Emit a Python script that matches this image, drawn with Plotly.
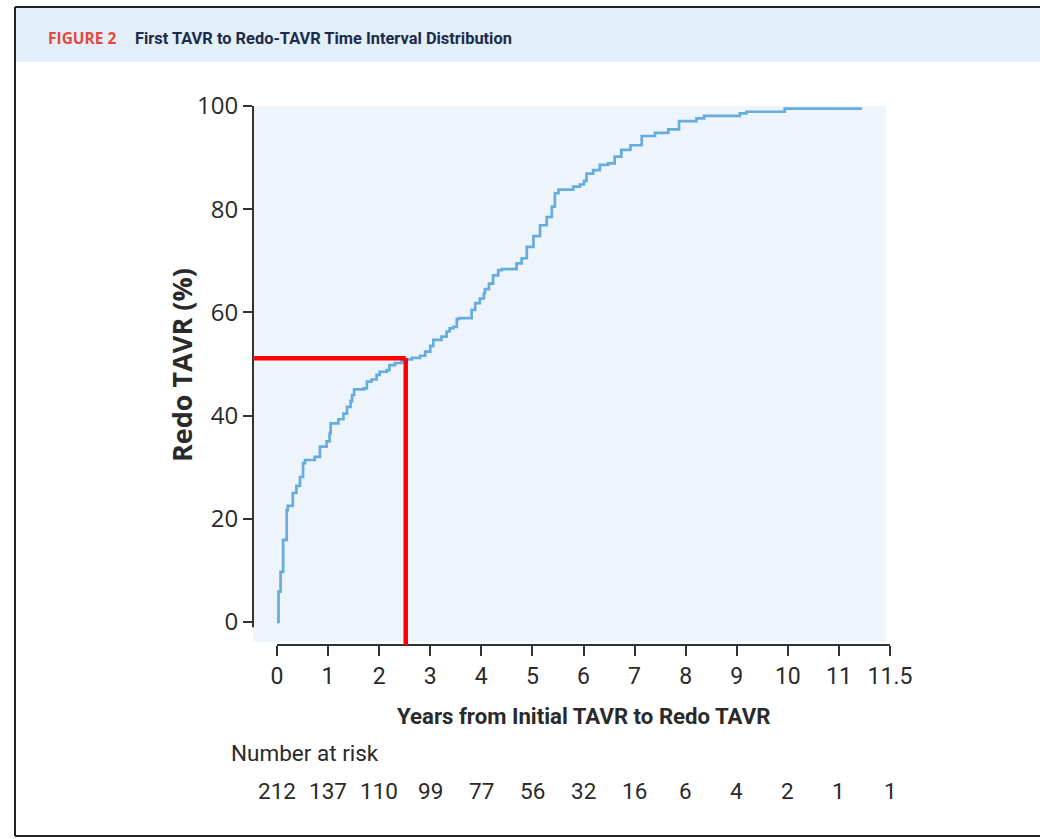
import plotly.graph_objects as go

# Cumulative incidence of redo TAVR (step curve): years from first TAVR, percent
years = [0.00, 0.03, 0.07, 0.12, 0.19, 0.21, 0.31, 0.38, 0.45, 0.51, 0.55, 0.74,
         0.84, 0.97, 1.03, 1.05, 1.20, 1.30, 1.37, 1.44, 1.47, 1.51, 1.70, 1.76,
         1.85, 1.95, 2.01, 2.15, 2.20, 2.31, 2.44, 2.54, 2.64, 2.80, 2.90, 3.00,
         3.06, 3.22, 3.32, 3.38, 3.45, 3.52, 3.56, 3.81, 3.88, 3.97, 4.05, 4.07,
         4.15, 4.23, 4.33, 4.40, 4.69, 4.79, 4.89, 5.02, 5.15, 5.28, 5.38, 5.44,
         5.51, 5.80, 5.93, 6.01, 6.06, 6.19, 6.32, 6.48, 6.61, 6.74, 6.92, 7.14,
         7.40, 7.66, 7.87, 8.21, 8.36, 9.06, 9.19, 9.94, 11.45]
redo_pct = [0.0, 5.9, 9.7, 15.9, 21.7, 22.5, 25.0, 26.4, 28.1, 30.8, 31.4, 32.0,
            34.0, 35.0, 36.6, 38.5, 39.3, 40.4, 41.7, 42.8, 44.0, 45.1, 45.3, 46.6,
            47.0, 47.9, 48.5, 48.8, 49.8, 50.2, 50.6, 50.9, 51.2, 51.6, 52.4, 53.5,
            54.7, 55.3, 56.3, 56.9, 57.2, 58.7, 58.9, 60.5, 61.8, 62.7, 63.7, 64.5,
            65.6, 67.2, 68.2, 68.4, 69.5, 70.5, 72.7, 74.8, 76.9, 78.5, 80.5, 83.1,
            83.8, 84.4, 84.8, 85.5, 86.9, 87.6, 88.6, 88.9, 90.2, 91.5, 92.4, 94.2,
            94.8, 95.5, 97.1, 97.6, 98.1, 98.6, 98.9, 99.5, 99.5]

# Median marker (time, percent)
median_year = 2.52
median_pct = 51.1

# Axis ticks: the last position carries the "11.5" label
x_tick_pos = [0, 1, 2, 3, 4, 5, 6, 7, 8, 9, 10, 11, 12]
x_tick_text = ["0", "1", "2", "3", "4", "5", "6", "7", "8", "9", "10", "11", "11.5"]
y_ticks = [0, 20, 40, 60, 80, 100]

number_at_risk = [212, 137, 110, 99, 77, 56, 32, 16, 6, 4, 2, 1, 1]

W, H = 1040, 839
L, R, T, B = 253, 150, 104, 194
PW, PH = W - L - R, H - T - B

X_RANGE = [-0.47, 12.0]
Y_RANGE = [-4.46, 100.4]

NARROW = "Roboto, sans-serif"
SANS = "Open Sans, Noto Sans, sans-serif"
INK = "#2a2a2a"


def px_x(px):
    return (px - L) / PW


def px_y(py):
    return (H - B - py) / PH


fig = go.Figure()

fig.add_trace(go.Scatter(
    x=years, y=redo_pct, mode="lines",
    line=dict(color="#66ADDE", width=2.7, shape="hv"),
    showlegend=False, hoverinfo="skip",
))

shapes = []
# plot panel background
shapes.append(dict(type="rect", xref="x", yref="y", x0=X_RANGE[0], x1=11.92,
                   y0=-3.9, y1=100, fillcolor="#EDF4FB", line=dict(width=0),
                   layer="below"))
# y axis line (0 to 100) and x axis line (0 to last tick)
shapes.append(dict(type="line", xref="paper", yref="y", x0=0, x1=0, y0=-1, y1=100,
                   line=dict(color="#333333", width=2)))
shapes.append(dict(type="line", xref="x", yref="paper", x0=0, x1=12, y0=0, y1=0,
                   line=dict(color="#333333", width=2)))
# median guide lines
shapes.append(dict(type="line", xref="x", yref="y", x0=X_RANGE[0] - 0.05, x1=median_year,
                   y0=median_pct, y1=median_pct, line=dict(color="#FF0000", width=4.5)))
shapes.append(dict(type="line", xref="x", yref="y", x0=median_year, x1=median_year,
                   y0=median_pct, y1=Y_RANGE[0], line=dict(color="#FF0000", width=4.5)))
# header band
shapes.append(dict(type="rect", xref="paper", yref="paper", x0=px_x(16), x1=px_x(1045),
                   y0=px_y(62), y1=px_y(8), fillcolor="#E2EEF8", line=dict(width=0),
                   layer="below"))
# frame lines (top, left, bottom)
frame = dict(color="#222222", width=2)
shapes.append(dict(type="line", xref="paper", yref="paper", x0=px_x(15), x1=px_x(1045),
                   y0=px_y(7), y1=px_y(7), line=frame))
shapes.append(dict(type="line", xref="paper", yref="paper", x0=px_x(15), x1=px_x(15),
                   y0=px_y(7), y1=px_y(836), line=frame))
shapes.append(dict(type="line", xref="paper", yref="paper", x0=px_x(15), x1=px_x(1045),
                   y0=px_y(836), y1=px_y(836), line=frame))

annotations = []
annotations.append(dict(text="<b>FIGURE 2</b>", xref="paper", yref="paper",
                        x=px_x(46), y=px_y(38), xanchor="left", yanchor="middle",
                        showarrow=False,
                        font=dict(family=SANS, size=15.5, color="#E5483A")))
annotations.append(dict(text="<b>First TAVR to Redo-TAVR Time Interval Distribution</b>",
                        xref="paper", yref="paper", x=px_x(133), y=px_y(38),
                        xanchor="left", yanchor="middle", showarrow=False,
                        font=dict(family=NARROW, size=16.4, color="#1C2B4B")))
annotations.append(dict(text="<b>Years from Initial TAVR to Redo TAVR</b>",
                        xref="paper", yref="paper", x=px_x(583), y=px_y(716),
                        xanchor="center", yanchor="middle", showarrow=False,
                        font=dict(family=NARROW, size=22.2, color=INK)))
annotations.append(dict(text="<b>Redo TAVR (%)</b>", xref="paper", yref="paper",
                        x=px_x(181), y=px_y(365), xanchor="center", yanchor="middle",
                        textangle=-90, showarrow=False,
                        font=dict(family=SANS, size=27, color=INK)))
annotations.append(dict(text="Number at risk", xref="paper", yref="paper",
                        x=px_x(229), y=px_y(753), xanchor="left", yanchor="middle",
                        showarrow=False, font=dict(family=NARROW, size=22.5, color=INK)))
for pos, n in zip(x_tick_pos, number_at_risk):
    annotations.append(dict(text=str(n), xref="x", yref="paper", x=pos, y=px_y(791),
                            xanchor="center", yanchor="middle", showarrow=False,
                            font=dict(family=NARROW, size=22.5, color=INK)))

fig.update_layout(
    width=W, height=H,
    margin=dict(l=L, r=R, t=T, b=B, pad=0),
    paper_bgcolor="white", plot_bgcolor="rgba(0,0,0,0)",
    shapes=shapes, annotations=annotations,
    xaxis=dict(range=X_RANGE, showgrid=False, zeroline=False, showline=False,
               tickmode="array", tickvals=x_tick_pos, ticktext=x_tick_text,
               ticks="outside", ticklen=10, tickwidth=2, tickcolor="#333333",
               tickfont=dict(family=NARROW, size=23, color=INK), fixedrange=True),
    yaxis=dict(range=Y_RANGE, showgrid=False, zeroline=False, showline=False,
               tickmode="array", tickvals=y_ticks,
               ticks="outside", ticklen=9, tickwidth=2, tickcolor="#333333",
               tickfont=dict(family=SANS, size=24, color=INK), fixedrange=True),
)

fig.write_html("out.html")
